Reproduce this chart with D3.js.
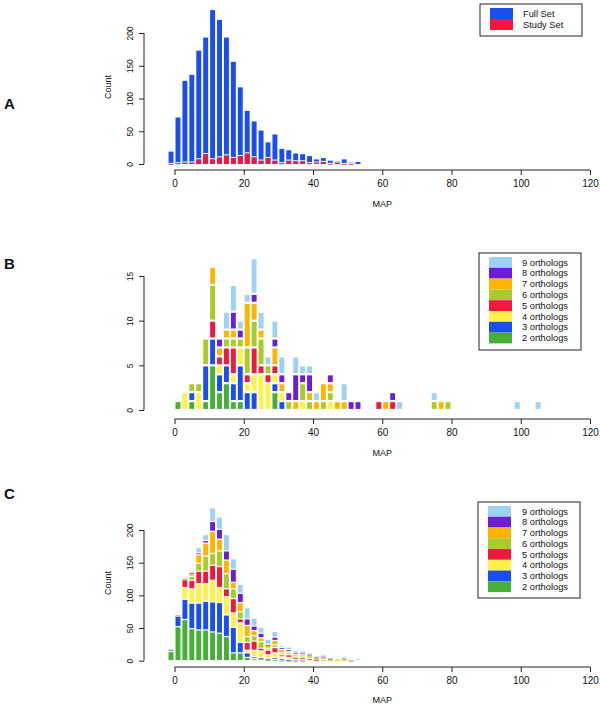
<!DOCTYPE html>
<html><head><meta charset="utf-8">
<script src="https://cdn.jsdelivr.net/npm/d3@7"></script>
<style>body{margin:0;background:#fff}svg{display:block;font-family:"Liberation Sans",Arial,Helvetica,sans-serif}</style>
</head><body>
<svg id="chart" width="600" height="706"></svg>
<script>
// ---- Data ----
// bin centres (MAP), 2-unit bins
const binMid = [-1,1,3,5,7,9,11,13,15,17,19,21,23,25,27,29,31,33,35,37,39,41,43,45,47,49,51,53,59,61,63,65,75,77,79,99,105];
const xTicks = [0,20,40,60,80,100,120];
const yTicksA = [0,50,100,150,200];
const yTicksB = [0,5,10,15];
const yTicksC = [0,50,100,150,200];

// Panel A
const fullSet  = [19,71,127,136,173,193,235,220,193,156,117,81,65,51,33,45,23,21,16,15,12,7,9,5,4,7,2,3];
const studySet = [0,1,2,3,3,8,16,8,11,14,10,13,17,11,6,10,6,2,6,5,5,2,3,4,1,3,1,1];
const legendA = ["Full Set","Study Set"];
const colorsA = ["#1b4ef0","#f0193c"];

// ortholog classes (bottom to top)
const classNames = ["2 orthologs","3 orthologs","4 orthologs","5 orthologs","6 orthologs","7 orthologs","8 orthologs","9 orthologs"];
const classColors = ["#45b035","#1b4ef0","#fff04a","#f0193c","#a9cc2c","#ffb400","#6a1fd6","#9dd2f6"];

// Panel B (study set) counts per class, by binMid
const studyOrth2 = [0,1,0,1,0,1,5,2,3,1,1,0,0,0,0,2,0,0,0,0,0,0,0,0,0,0,0,0,0,0,0,0,0,0,0,0,0];
const studyOrth3 = [0,0,0,1,0,4,3,2,2,2,4,2,2,0,0,1,1,0,0,0,0,0,0,0,0,0,0,0,0,0,0,0,0,0,0,0,0];
const studyOrth4 = [0,0,2,0,2,0,0,1,0,1,2,1,2,4,3,1,1,0,0,1,0,0,0,1,0,0,0,0,0,0,0,0,0,0,0,0,0];
const studyOrth5 = [0,0,0,0,0,0,2,1,2,3,0,1,3,1,1,1,0,0,0,0,0,0,0,0,0,0,0,0,1,0,1,0,0,0,0,0,0];
const studyOrth6 = [0,0,0,1,1,3,4,0,1,1,1,3,3,3,1,0,0,1,0,2,1,0,1,1,0,0,0,0,0,0,0,0,1,0,1,0,0];
const studyOrth7 = [0,0,0,0,0,0,2,1,1,1,0,5,2,1,0,2,1,0,1,0,1,1,2,1,1,1,0,0,0,1,0,0,0,1,0,0,0];
const studyOrth8 = [0,0,0,0,0,0,0,1,0,2,1,0,1,0,0,1,1,1,3,1,2,0,0,1,0,0,1,1,0,0,1,0,0,0,0,0,0];
const studyOrth9 = [0,0,0,0,0,0,0,0,2,3,1,1,4,2,1,2,2,0,2,1,1,1,0,0,0,2,0,0,0,0,0,1,1,0,0,1,1];

// Panel C (full set) counts per class, by binMid (first 28 bins)
const fullOrth2 = [14,52,63,49,47,47,44,42,37,12,12,5,3,3,2,2,1,1,0,0,0,0,0,0,0,0,0,0];
const fullOrth3 = [3,16,31,39,41,44,46,47,33,39,16,7,3,2,1,3,2,1,1,1,0,0,0,0,0,0,0,0];
const fullOrth4 = [1,1,18,22,30,27,33,23,28,22,30,4,10,10,6,7,3,3,2,2,2,1,0,1,0,0,0,0];
const fullOrth5 = [0,1,12,13,19,19,23,32,12,22,6,12,14,4,7,8,3,4,2,2,1,1,0,0,0,0,0,0];
const fullOrth6 = [0,0,1,6,12,23,18,24,23,15,11,9,8,10,3,4,3,3,2,2,3,1,2,1,0,0,0,0];
const fullOrth7 = [0,0,1,4,13,20,34,18,21,10,14,17,8,6,5,7,5,3,3,3,2,2,3,1,2,2,0,0];
const fullOrth8 = [0,0,0,2,3,4,15,15,14,20,14,10,7,7,1,5,3,2,3,3,2,1,2,1,0,2,1,0];
const fullOrth9 = [1,1,1,1,8,9,21,19,25,16,14,17,12,9,8,9,3,4,3,2,2,1,2,1,2,3,1,3];

// ---- Drawing ----
const svg = d3.select("#chart");
const x = d3.scaleLinear().domain([0,120]).range([174.5,590]);
const binW = 2;

function xAxis(yPos, labelY) {
  const g = svg.append("g").attr("transform",`translate(0,${yPos})`);
  g.call(d3.axisBottom(x).tickValues(xTicks).tickSize(5).tickPadding(3).tickFormat(d3.format("d")));
  g.select(".domain").attr("stroke","#222").attr("d",`M${x(0)},0H${x(120)}`);
  g.selectAll(".tick line").attr("stroke","#222");
  g.selectAll(".tick text").attr("font-size","10px").attr("fill","#111").attr("dy","0.9em");
  svg.append("text").attr("x",(x(0)+x(120))/2).attr("y",labelY).attr("text-anchor","middle")
    .attr("font-size","9px").attr("fill","#111").text("MAP");
}
function yAxis(y, ticks, countLabel, labelY) {
  const g = svg.append("g").attr("transform","translate(144,0)");
  g.call(d3.axisLeft(y).tickValues(ticks).tickSize(5).tickFormat(d3.format("d")));
  g.select(".domain").attr("stroke","#222").attr("d",`M0,${y(ticks[0])}V${y(ticks[ticks.length-1])}`);
  g.selectAll(".tick line").attr("stroke","#222");
  g.selectAll(".tick text").attr("font-size","8.5px").attr("fill","#111")
    .attr("x",0).attr("dy",0).attr("text-anchor","middle")
    .attr("transform","translate(-11,0) rotate(-90)");
  if (countLabel) {
    svg.append("text").attr("transform",`translate(111,${labelY}) rotate(-90)`)
      .attr("text-anchor","middle").attr("font-size","9px").attr("fill","#111").text("Count");
  }
}
function panelLabel(t, yb) {
  svg.append("text").attr("x",4).attr("y",yb).attr("font-size","15px").attr("font-weight","bold").attr("fill","#111").text(t);
}
function legend(x0, y0, w, h, names, colors, rowH, textX) {
  svg.append("rect").attr("x",x0).attr("y",y0).attr("width",w).attr("height",h)
    .attr("fill","white").attr("stroke","#222").attr("stroke-width",1);
  const rows = svg.append("g").selectAll("g").data(names).join("g");
  rows.append("rect").attr("x",x0+10).attr("y",(d,i)=>y0+4+i*rowH).attr("width",23).attr("height",rowH)
    .attr("fill",(d,i)=>colors[i]);
  rows.append("text").attr("x",textX).attr("y",(d,i)=>y0+4+i*rowH+rowH/2+3.2)
    .attr("font-size","9.3px").attr("fill","#111").text(d=>d);
}
// stacked segments, merging same-class cells, white gaps between classes
function stackedPanel(series, n, y, gap) {
  const rows = d3.range(n).map(i => {
    const r = {mid: binMid[i]};
    series.forEach((s,k)=> r["c"+k] = s[i]);
    return r;
  });
  const keys = series.map((s,k)=>"c"+k);
  const stacked = d3.stack().keys(keys)(rows);
  stacked.forEach((layer,k)=>{
    svg.append("g").selectAll("rect").data(layer.filter(d=>d[1]>d[0])).join("rect")
      .attr("x", d=>x(d.data.mid-binW/2)+1)
      .attr("width", d=>x(d.data.mid+binW/2)-x(d.data.mid-binW/2)-2)
      .attr("y", d=>y(d[1])+gap/2)
      .attr("height", d=>Math.max(0.7, y(d[0])-y(d[1])-gap))
      .attr("fill", classColors[k]);
  });
}

// ---- Panel A ----
const yA = d3.scaleLinear().domain([0,200]).range([164,33]);
svg.append("g").selectAll("rect").data(fullSet).join("rect")
  .attr("x",(d,i)=>x(binMid[i]-1)+1).attr("width",(d,i)=>x(binMid[i]+1)-x(binMid[i]-1)-2)
  .attr("y",d=>yA(d)).attr("height",d=>yA(0)-yA(d)).attr("fill",colorsA[0]);
svg.append("g").selectAll("rect").data(studySet).join("rect")
  .filter(d=>d>0)
  .attr("x",(d,i)=>x(binMid[i]-1)+1).attr("width",(d,i)=>x(binMid[i]+1)-x(binMid[i]-1)-2)
  .attr("y",d=>yA(d)+0.8).attr("height",d=>Math.max(0.7,yA(0)-yA(d)-0.8)).attr("fill",colorsA[1]);
svg.append("g").selectAll("line").data(studySet).join("line")
  .filter(d=>d>0)
  .attr("x1",(d,i)=>x(binMid[i]-1)+1).attr("x2",(d,i)=>x(binMid[i]+1)-1)
  .attr("y1",d=>yA(d)).attr("y2",d=>yA(d)).attr("stroke","white").attr("stroke-width",1);
xAxis(170, 207);
yAxis(yA, yTicksA, true, 87);
panelLabel("A", 109);
legend(480, 4, 102, 32, legendA, colorsA, 11, 523);

// ---- Panel B ----
const yB = d3.scaleLinear().domain([0,15]).range([410,276]);
stackedPanel([studyOrth2,studyOrth3,studyOrth4,studyOrth5,studyOrth6,studyOrth7,studyOrth8,studyOrth9], binMid.length, yB, 2.2);
xAxis(419, 456);
yAxis(yB, yTicksB, false, 0);
panelLabel("B", 269);
legend(479, 253, 102, 97, classNames.slice().reverse(), classColors.slice().reverse(), 10.8, 522);

// ---- Panel C ----
const yC = d3.scaleLinear().domain([0,200]).range([660.7,530]);
stackedPanel([fullOrth2,fullOrth3,fullOrth4,fullOrth5,fullOrth6,fullOrth7,fullOrth8,fullOrth9], fullOrth2.length, yC, 1.2);
xAxis(667, 703);
yAxis(yC, yTicksC, true, 583);
panelLabel("C", 499);
legend(478, 502, 102, 96, classNames.slice().reverse(), classColors.slice().reverse(), 10.76, 522);
</script>
</body></html>
